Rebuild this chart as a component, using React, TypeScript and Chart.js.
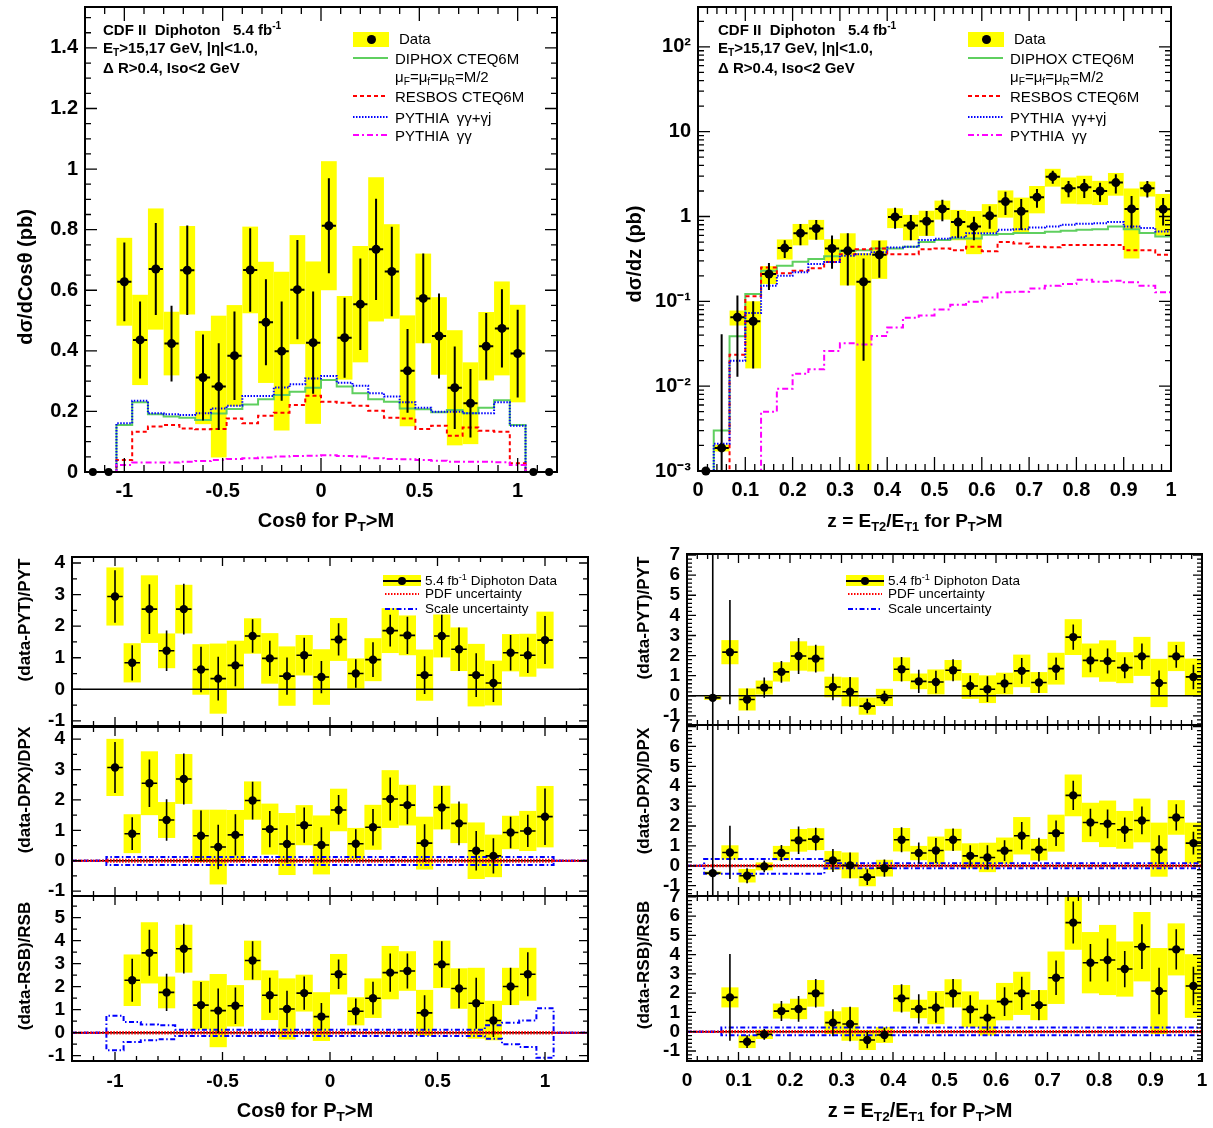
import React, { useEffect, useRef } from "react";
import { Chart, registerables } from "chart.js";
Chart.register(...registerables);

const W = 1213;
const H = 1128;
const M = 80; // extra canvas margin so label overflow never moves the plot frame
const FONT = "'Liberation Sans', Arial, Helvetica, sans-serif";

const YELLOW = "#ffff00";
const GREEN = "#5fcf5f";
const RED = "#ff0000";
const BLUE = "#0000ff";
const MAGENTA = "#ff00ff";

// ================= cos(theta) distribution =================
const cosEdges = [-1.04, -0.96, -0.88, -0.8, -0.72, -0.64, -0.56, -0.48, -0.4, -0.32, -0.24, -0.16, -0.08, 0.0, 0.08, 0.16, 0.24, 0.32, 0.4, 0.48, 0.56, 0.64, 0.72, 0.8, 0.88, 0.96, 1.04];
const cosOuterX = [-1.16, -1.08, 1.08, 1.16];
const cosOuterY = [0, 0, 0, 0];
const cosData = [0.628, 0.436, 0.67, 0.424, 0.666, 0.312, 0.282, 0.384, 0.667, 0.494, 0.399, 0.602, 0.427, 0.813, 0.443, 0.554, 0.735, 0.662, 0.334, 0.573, 0.449, 0.278, 0.227, 0.415, 0.474, 0.391];
const cosStat = [0.13, 0.127, 0.152, 0.125, 0.148, 0.142, 0.143, 0.146, 0.138, 0.142, 0.164, 0.164, 0.169, 0.157, 0.132, 0.151, 0.167, 0.148, 0.138, 0.148, 0.14, 0.136, 0.113, 0.11, 0.129, 0.145];
const cosSyst = [0.145, 0.149, 0.2, 0.105, 0.146, 0.154, 0.234, 0.167, 0.143, 0.2, 0.262, 0.18, 0.268, 0.213, 0.138, 0.192, 0.238, 0.156, 0.183, 0.148, 0.128, 0.19, 0.135, 0.113, 0.155, 0.161];
const cosDiphox = [0.155, 0.23, 0.191, 0.183, 0.179, 0.172, 0.193, 0.208, 0.223, 0.24, 0.254, 0.265, 0.278, 0.304, 0.282, 0.26, 0.24, 0.232, 0.21, 0.207, 0.197, 0.205, 0.194, 0.212, 0.237, 0.155];
const cosResbos = [0.04, 0.133, 0.15, 0.155, 0.144, 0.141, 0.142, 0.177, 0.161, 0.186, 0.196, 0.221, 0.252, 0.232, 0.229, 0.219, 0.202, 0.179, 0.177, 0.142, 0.153, 0.12, 0.147, 0.136, 0.133, 0.029];
const cosPythiaAll = [0.161, 0.235, 0.194, 0.191, 0.188, 0.194, 0.21, 0.219, 0.251, 0.251, 0.279, 0.29, 0.309, 0.317, 0.295, 0.285, 0.26, 0.249, 0.23, 0.212, 0.199, 0.199, 0.194, 0.194, 0.23, 0.153];
const cosPythiaGG = [0.023, 0.031, 0.031, 0.031, 0.034, 0.036, 0.04, 0.043, 0.045, 0.048, 0.051, 0.053, 0.054, 0.055, 0.053, 0.051, 0.045, 0.043, 0.042, 0.04, 0.037, 0.034, 0.034, 0.034, 0.032, 0.023];

// ================= z = ET2/ET1 distribution =================
const zEdges = [0, 0.0333, 0.0667, 0.1, 0.1333, 0.1667, 0.2, 0.2333, 0.2667, 0.3, 0.3333, 0.3667, 0.4, 0.4333, 0.4667, 0.5, 0.5333, 0.5667, 0.6, 0.6333, 0.6667, 0.7, 0.7333, 0.7667, 0.8, 0.8333, 0.8667, 0.9, 0.9333, 0.9667, 1.0];
const zData = [0, 0.00187, 0.0649, 0.0582, 0.21, 0.424, 0.637, 0.722, 0.42, 0.394, 0.17, 0.354, 0.99, 0.784, 0.88, 1.23, 0.86, 0.76, 1.02, 1.5, 1.15, 1.69, 2.95, 2.15, 2.21, 2.0, 2.51, 1.23, 2.15, 1.22];
const zStat = [0, 0.039, 0.052, 0.042, 0.074, 0.1, 0.18, 0.19, 0.177, 0.24, 0.15, 0.164, 0.275, 0.26, 0.285, 0.35, 0.3, 0.235, 0.305, 0.46, 0.455, 0.42, 0.515, 0.465, 0.555, 0.505, 0.645, 0.51, 0.47, 0.435];
const zSyst = [0, 0.00017, 0.013, 0.042, 0.05, 0.113, 0.18, 0.19, 0.12, 0.24, 0.2, 0.17, 0.26, 0.26, 0.29, 0.31, 0.335, 0.4, 0.38, 0.53, 0.52, 0.6, 0.7, 0.735, 0.815, 0.635, 0.75, 0.91, 0.43, 0.625];
const zDiphox = [0, 0.003, 0.0387, 0.122, 0.23, 0.263, 0.293, 0.315, 0.339, 0.395, 0.4, 0.42, 0.42, 0.44, 0.5, 0.53, 0.55, 0.55, 0.61, 0.62, 0.64, 0.64, 0.66, 0.68, 0.7, 0.71, 0.76, 0.71, 0.64, 0.58];
const zResbos = [0, 0, 0.0234, 0.115, 0.251, 0.214, 0.23, 0.246, 0.29, 0.36, 0.41, 0.42, 0.36, 0.36, 0.41, 0.42, 0.4, 0.44, 0.39, 0.5, 0.48, 0.44, 0.435, 0.46, 0.46, 0.46, 0.46, 0.4, 0.4, 0.354];
const zPythiaAll = [0, 0.0021, 0.02, 0.073, 0.153, 0.2, 0.22, 0.275, 0.29, 0.344, 0.36, 0.38, 0.43, 0.44, 0.53, 0.547, 0.57, 0.637, 0.637, 0.7, 0.71, 0.74, 0.76, 0.8, 0.82, 0.835, 0.86, 0.76, 0.73, 0.665];
const zPythiaGG = [0, 0, 0, 0, 0.005, 0.0093, 0.014, 0.0158, 0.026, 0.032, 0.031, 0.039, 0.049, 0.064, 0.068, 0.08, 0.091, 0.099, 0.111, 0.128, 0.13, 0.142, 0.153, 0.16, 0.18, 0.17, 0.175, 0.168, 0.153, 0.128];

// ================= ratio panels, cos(theta) =================
const l1Val = [2.94, 0.84, 2.54, 1.22, 2.54, 0.63, 0.34, 0.76, 1.69, 0.98, 0.42, 1.08, 0.39, 1.58, 0.5, 0.94, 1.86, 1.71, 0.45, 1.69, 1.27, 0.45, 0.2, 1.16, 1.08, 1.56];
const l1Stat = [0.83, 0.56, 0.79, 0.64, 0.8, 0.72, 0.69, 0.66, 0.53, 0.56, 0.59, 0.55, 0.51, 0.51, 0.45, 0.55, 0.5, 0.59, 0.6, 0.67, 0.69, 0.69, 0.6, 0.56, 0.56, 0.76];
const l1Syst = [0.92, 0.62, 1.07, 0.55, 0.77, 0.8, 1.11, 0.78, 0.56, 0.8, 0.94, 0.64, 0.88, 0.68, 0.48, 0.68, 0.71, 0.63, 0.81, 0.68, 0.69, 0.99, 0.71, 0.59, 0.68, 0.9];

const l2Val = [3.07, 0.89, 2.55, 1.34, 2.69, 0.82, 0.45, 0.85, 1.98, 1.04, 0.55, 1.17, 0.52, 1.67, 0.56, 1.1, 2.03, 1.83, 0.58, 1.75, 1.23, 0.33, 0.16, 0.93, 0.98, 1.45];
const l2Stat = [0.84, 0.54, 0.78, 0.68, 0.84, 0.83, 0.73, 0.68, 0.62, 0.6, 0.62, 0.58, 0.58, 0.49, 0.48, 0.6, 0.71, 0.63, 0.62, 0.71, 0.72, 0.65, 0.58, 0.52, 0.53, 0.93];
const l2Syst = [0.94, 0.64, 1.05, 0.59, 0.82, 0.86, 1.23, 0.82, 0.63, 0.84, 1.02, 0.66, 0.97, 0.7, 0.52, 0.74, 0.95, 0.67, 0.87, 0.72, 0.65, 0.93, 0.7, 0.55, 0.66, 1.01];
const l2ScaleUp = [0.12, 0.12, 0.12, 0.12, 0.12, 0.12, 0.12, 0.12, 0.12, 0.12, 0.12, 0.12, 0.12, 0.12, 0.12, 0.12, 0.12, 0.12, 0.12, 0.12, 0.12, 0.12, 0.12, 0.12, 0.12, 0.12];
const l2ScaleDn = [-0.14, -0.14, -0.14, -0.14, -0.14, -0.14, -0.14, -0.14, -0.14, -0.14, -0.14, -0.14, -0.14, -0.14, -0.14, -0.14, -0.14, -0.14, -0.14, -0.14, -0.14, -0.14, -0.14, -0.14, -0.14, -0.14];
const l2PdfUp = [0.03, 0.03, 0.03, 0.03, 0.03, 0.03, 0.03, 0.03, 0.03, 0.03, 0.03, 0.03, 0.03, 0.03, 0.03, 0.03, 0.03, 0.03, 0.03, 0.03, 0.03, 0.03, 0.03, 0.03, 0.03, 0.03];
const l2PdfDn = [-0.03, -0.03, -0.03, -0.03, -0.03, -0.03, -0.03, -0.03, -0.03, -0.03, -0.03, -0.03, -0.03, -0.03, -0.03, -0.03, -0.03, -0.03, -0.03, -0.03, -0.03, -0.03, -0.03, -0.03, -0.03, -0.03];

const l3Val = [null, 2.28, 3.47, 1.75, 3.65, 1.2, 0.96, 1.17, 3.14, 1.63, 1.03, 1.72, 0.7, 2.54, 0.93, 1.5, 2.61, 2.68, 0.86, 2.97, 1.92, 1.28, 0.53, 2.01, 2.54, null];
const l3Stat = [0, 0.93, 1.0, 0.81, 1.08, 1.0, 0.96, 0.79, 0.83, 0.76, 0.79, 0.72, 0.59, 0.64, 0.56, 0.71, 0.83, 0.76, 0.77, 1.0, 0.86, 1.11, 0.72, 0.81, 0.96, 0];
const l3Syst = [0, 1.12, 1.33, 0.69, 1.04, 1.06, 1.59, 0.9, 0.86, 1.08, 1.33, 0.8, 1.06, 0.88, 0.61, 0.86, 1.16, 0.86, 1.0, 1.03, 0.88, 1.54, 0.86, 0.81, 1.15, 0];
const l3ScaleUp = [0.74, 0.46, 0.36, 0.32, 0.13, 0.13, 0.13, 0.13, 0.13, 0.13, 0.13, 0.13, 0.13, 0.13, 0.13, 0.13, 0.13, 0.13, 0.13, 0.13, 0.13, 0.13, 0.32, 0.43, 0.53, 1.06];
const l3ScaleDn = [-0.76, -0.4, -0.33, -0.29, -0.14, -0.14, -0.14, -0.14, -0.14, -0.14, -0.14, -0.14, -0.14, -0.14, -0.14, -0.14, -0.14, -0.14, -0.14, -0.14, -0.14, -0.14, -0.26, -0.5, -0.62, -1.09];
const l3PdfUp = [0.03, 0.03, 0.03, 0.03, 0.03, 0.03, 0.03, 0.03, 0.03, 0.03, 0.03, 0.03, 0.03, 0.03, 0.03, 0.03, 0.03, 0.03, 0.03, 0.03, 0.03, 0.03, 0.03, 0.03, 0.03, 0.03];
const l3PdfDn = [-0.03, -0.03, -0.03, -0.03, -0.03, -0.03, -0.03, -0.03, -0.03, -0.03, -0.03, -0.03, -0.03, -0.03, -0.03, -0.03, -0.03, -0.03, -0.03, -0.03, -0.03, -0.03, -0.03, -0.03, -0.03, -0.03];

// ================= ratio panels, z =================
const r1Val = [null, -0.1, 2.17, -0.18, 0.41, 1.19, 1.98, 1.85, 0.44, 0.2, -0.51, -0.08, 1.32, 0.72, 0.69, 1.27, 0.49, 0.33, 0.61, 1.24, 0.66, 1.35, 2.92, 1.76, 1.73, 1.4, 1.96, 0.64, 1.96, 0.94];
const r1Stat = [0, 9.0, 2.59, 0.54, 0.5, 0.54, 0.9, 0.69, 0.66, 0.74, 0.36, 0.33, 0.61, 0.58, 0.56, 0.55, 0.52, 0.64, 0.47, 0.64, 0.52, 0.56, 0.63, 0.59, 0.62, 0.52, 0.64, 0.62, 0.57, 0.61];
const r1Syst = [0, 0.1, 0.6, 0.55, 0.35, 0.48, 0.73, 0.64, 0.51, 0.72, 0.43, 0.43, 0.59, 0.39, 0.62, 0.51, 0.64, 0.69, 0.54, 0.81, 0.52, 0.79, 0.89, 0.84, 1.03, 0.77, 0.97, 1.2, 0.73, 0.91];

const r2Val = [null, -0.37, 0.67, -0.5, -0.03, 0.64, 1.28, 1.34, 0.27, 0.02, -0.57, -0.12, 1.31, 0.64, 0.77, 1.31, 0.5, 0.42, 0.76, 1.51, 0.81, 1.64, 3.54, 2.18, 2.11, 1.81, 2.28, 0.81, 2.43, 1.14];
const r2Stat = [0, 9.0, 1.34, 0.38, 0.3, 0.4, 0.69, 0.57, 0.58, 0.65, 0.4, 0.43, 0.63, 0.53, 0.63, 0.57, 0.53, 0.61, 0.52, 0.69, 0.6, 0.64, 0.74, 0.69, 0.72, 0.62, 0.7, 0.72, 0.66, 0.57];
const r2Syst = [0, 0.08, 0.36, 0.34, 0.2, 0.36, 0.57, 0.55, 0.47, 0.65, 0.46, 0.42, 0.59, 0.36, 0.7, 0.55, 0.63, 0.74, 0.66, 0.94, 0.54, 0.93, 1.05, 0.99, 1.17, 0.95, 1.1, 1.36, 0.87, 1.03];
const r2ScaleUp = [0, 0.34, 0.34, 0.34, 0.34, 0.34, 0.34, 0.34, 0.13, 0.13, 0.13, 0.13, 0.13, 0.13, 0.13, 0.13, 0.13, 0.13, 0.13, 0.13, 0.13, 0.13, 0.13, 0.13, 0.13, 0.13, 0.13, 0.13, 0.13, 0.13];
const r2ScaleDn = [0, -0.4, -0.4, -0.4, -0.4, -0.4, -0.4, -0.4, -0.12, -0.12, -0.12, -0.12, -0.12, -0.12, -0.12, -0.12, -0.12, -0.12, -0.12, -0.12, -0.12, -0.12, -0.12, -0.12, -0.12, -0.12, -0.12, -0.12, -0.12, -0.12];
const r2PdfUp = [0, 0.03, 0.03, 0.03, 0.03, 0.03, 0.03, 0.03, 0.03, 0.03, 0.03, 0.03, 0.03, 0.03, 0.03, 0.03, 0.03, 0.03, 0.03, 0.03, 0.03, 0.03, 0.03, 0.03, 0.03, 0.03, 0.03, 0.03, 0.03, 0.03];
const r2PdfDn = [0, -0.03, -0.03, -0.03, -0.03, -0.03, -0.03, -0.03, -0.03, -0.03, -0.03, -0.03, -0.03, -0.03, -0.03, -0.03, -0.03, -0.03, -0.03, -0.03, -0.03, -0.03, -0.03, -0.03, -0.03, -0.03, -0.03, -0.03, -0.03, -0.03];

const r3Val = [null, null, 1.78, -0.52, -0.14, 1.07, 1.18, 1.99, 0.47, 0.4, -0.43, -0.17, 1.73, 1.18, 1.25, 1.99, 1.16, 0.73, 1.56, 1.99, 1.38, 2.8, 5.66, 3.58, 3.72, 3.25, 4.41, 2.11, 4.27, 2.37];
const r3Stat = [0, 0, 2.25, 0.33, 0.28, 0.52, 0.67, 0.74, 0.7, 0.9, 0.43, 0.37, 0.73, 0.76, 0.79, 0.74, 0.73, 0.67, 0.74, 0.86, 0.78, 0.89, 1.09, 0.97, 1.11, 0.94, 1.16, 1.21, 1.04, 1.0];
const r3Syst = [0, 0, 0.52, 0.33, 0.24, 0.39, 0.53, 0.69, 0.59, 0.87, 0.52, 0.41, 0.69, 0.48, 0.86, 0.73, 0.93, 0.93, 0.97, 1.12, 0.78, 1.36, 1.41, 1.59, 1.82, 1.43, 1.8, 2.23, 1.35, 1.65];
const r3ScaleUp = [0, 0, 0.22, 0.22, 0.22, 0.22, 0.22, 0.22, 0.22, 0.22, 0.22, 0.22, 0.22, 0.22, 0.22, 0.22, 0.22, 0.22, 0.22, 0.22, 0.22, 0.22, 0.22, 0.22, 0.22, 0.22, 0.22, 0.22, 0.22, 0.22];
const r3ScaleDn = [0, 0, -0.18, -0.18, -0.18, -0.18, -0.18, -0.18, -0.18, -0.18, -0.18, -0.18, -0.18, -0.18, -0.18, -0.18, -0.18, -0.18, -0.18, -0.18, -0.18, -0.18, -0.18, -0.18, -0.18, -0.18, -0.18, -0.18, -0.18, -0.18];
const r3PdfUp = [0, 0, 0.03, 0.03, 0.03, 0.03, 0.03, 0.03, 0.03, 0.03, 0.03, 0.03, 0.03, 0.03, 0.03, 0.03, 0.03, 0.03, 0.03, 0.03, 0.03, 0.03, 0.03, 0.03, 0.03, 0.03, 0.03, 0.03, 0.03, 0.03];
const r3PdfDn = [0, 0, -0.03, -0.03, -0.03, -0.03, -0.03, -0.03, -0.03, -0.03, -0.03, -0.03, -0.03, -0.03, -0.03, -0.03, -0.03, -0.03, -0.03, -0.03, -0.03, -0.03, -0.03, -0.03, -0.03, -0.03, -0.03, -0.03, -0.03, -0.03];

// ================= tick labels =================
const tlXTicks = [-1, -0.5, 0, 0.5, 1];
const tlYTicks = [0, 0.2, 0.4, 0.6, 0.8, 1, 1.2, 1.4];
const trXTicks = [0, 0.1, 0.2, 0.3, 0.4, 0.5, 0.6, 0.7, 0.8, 0.9, 1];
const trYTicks = [0.001, 0.01, 0.1, 1, 10, 100];
const trYTickText = ["10\u207B\u00B3", "10\u207B\u00B2", "10\u207B\u00B9", "1", "10", "10\u00B2"];
const lYTicks4 = [-1, 0, 1, 2, 3, 4];
const lYTicks5 = [-1, 0, 1, 2, 3, 4, 5];
const rYTicks = [-1, 0, 1, 2, 3, 4, 5, 6, 7];

// ================= helpers =================
type Spec = {
  frame: [number, number, number, number];
  xRange: [number, number];
  yRange: [number, number];
  log?: boolean;
  xTicks: number[];
  yTicks: number[];
  yTickText?: string[];
  xLabels: boolean;
  xMinor: number;
  yMinor: number;
  lenX: [number, number];
  lenY: [number, number];
  fontSize: number;
  xPad: number;
  yPad: number;
  zeroLine?: boolean;
  barWidth: number;
  datasets: any[];
};

function centers(edges: number[]) {
  return edges.slice(0, -1).map((e, i) => (e + edges[i + 1]) / 2);
}

function histLine(edges: number[], vals: number[], xr: [number, number], color: string, dash: number[], order: number, floor = 0, width = 2) {
  const pts: { x: number; y: number }[] = [{ x: xr[0], y: floor }, { x: edges[0], y: floor }];
  vals.forEach((v, i) => {
    const yy = v > 0 || floor === 0 ? v : floor;
    pts.push({ x: edges[i], y: yy });
    pts.push({ x: edges[i + 1], y: yy });
  });
  pts.push({ x: edges[edges.length - 1], y: floor });
  pts.push({ x: xr[1], y: floor });
  return {
    type: "line",
    data: pts,
    borderColor: color,
    borderWidth: width,
    borderDash: dash,
    pointRadius: 0,
    fill: false,
    tension: 0,
    order,
  };
}

function pointsDS(edges: number[], vals: (number | null)[], stat: number[], syst: number[], radius: number, floor?: number) {
  const c = centers(edges);
  return {
    type: "scatter",
    data: vals.map((v, i) => ({ x: c[i], y: v == null ? null : floor !== undefined && v <= 0 ? floor : v })),
    edges,
    stat,
    syst,
    pointRadius: radius,
    pointBackgroundColor: "#000",
    pointBorderWidth: 0,
    showLine: false,
    clip: false,
    order: 0,
  };
}

function fmtNum(v: number) {
  return `${Math.round(v * 1000) / 1000}`;
}

function makePlugin(s: Spec) {
  const yPix = (ys: any, v: number, ca: any) => (s.log && v <= 0 ? ca.bottom + 60 : ys.getPixelForValue(v));
  const clip = (ctx: CanvasRenderingContext2D, ca: any) => {
    ctx.beginPath();
    ctx.rect(ca.left, ca.top, ca.right - ca.left, ca.bottom - ca.top);
    ctx.clip();
  };
  return {
    id: "rootStyle",
    beforeDatasetsDraw(chart: any) {
      const { ctx, chartArea: ca } = chart;
      const xs = chart.scales.x;
      const ys = chart.scales.y;
      ctx.save();
      clip(ctx, ca);
      ctx.fillStyle = YELLOW;
      for (const ds of chart.data.datasets) {
        if (!ds.syst) continue;
        ds.data.forEach((p: any, i: number) => {
          if (p.y == null || !ds.syst[i]) return;
          const x0 = xs.getPixelForValue(ds.edges[i]);
          const x1 = xs.getPixelForValue(ds.edges[i + 1]);
          const y0 = yPix(ys, p.y + ds.syst[i], ca);
          const y1 = yPix(ys, p.y - ds.syst[i], ca);
          ctx.fillRect(x0, y0, x1 - x0, y1 - y0);
        });
      }
      if (s.zeroLine) {
        const y0 = ys.getPixelForValue(0);
        ctx.strokeStyle = "#000";
        ctx.lineWidth = 1.5;
        ctx.beginPath();
        ctx.moveTo(ca.left, y0);
        ctx.lineTo(ca.right, y0);
        ctx.stroke();
      }
      ctx.restore();
    },
    afterDatasetsDraw(chart: any) {
      const { ctx, chartArea: ca } = chart;
      const xs = chart.scales.x;
      const ys = chart.scales.y;
      ctx.save();
      clip(ctx, ca);
      ctx.strokeStyle = "#000";
      ctx.lineWidth = s.barWidth;
      ctx.beginPath();
      for (const ds of chart.data.datasets) {
        if (!ds.stat) continue;
        ds.data.forEach((p: any, i: number) => {
          if (p.y == null || !ds.stat[i]) return;
          const half = (ds.edges[i + 1] - ds.edges[i]) * 0.45;
          const px = xs.getPixelForValue(p.x);
          const py = ys.getPixelForValue(p.y);
          ctx.moveTo(px, yPix(ys, p.y + ds.stat[i], ca));
          ctx.lineTo(px, yPix(ys, p.y - ds.stat[i], ca));
          ctx.moveTo(xs.getPixelForValue(p.x - half), py);
          ctx.lineTo(xs.getPixelForValue(p.x + half), py);
        });
      }
      ctx.stroke();
      ctx.restore();
    },
    afterDraw(chart: any) {
      const { ctx, chartArea: ca } = chart;
      const xs = chart.scales.x;
      const ys = chart.scales.y;
      ctx.save();
      ctx.strokeStyle = "#000";
      ctx.lineWidth = 1.3;
      ctx.beginPath();
      const tickX = (v: number, len: number) => {
        const px = xs.getPixelForValue(v);
        ctx.moveTo(px, ca.bottom);
        ctx.lineTo(px, ca.bottom - len);
        ctx.moveTo(px, ca.top);
        ctx.lineTo(px, ca.top + len);
      };
      const tickY = (v: number, len: number) => {
        const py = ys.getPixelForValue(v);
        ctx.moveTo(ca.left, py);
        ctx.lineTo(ca.left + len, py);
        ctx.moveTo(ca.right, py);
        ctx.lineTo(ca.right - len, py);
      };
      const [x0, x1] = s.xRange;
      const [y0, y1] = s.yRange;
      s.xTicks.forEach((v) => tickX(v, s.lenX[0]));
      for (let k = Math.ceil(x0 / s.xMinor - 1e-9); k <= Math.floor(x1 / s.xMinor + 1e-9); k++) {
        const v = k * s.xMinor;
        if (v <= x0 + 1e-9 || v >= x1 - 1e-9) continue;
        if (s.xTicks.some((t) => Math.abs(t - v) < 1e-6)) continue;
        tickX(v, s.lenX[1]);
      }
      s.yTicks.forEach((v) => tickY(v, s.lenY[0]));
      if (s.log) {
        for (let d = Math.floor(Math.log10(y0)); d <= Math.ceil(Math.log10(y1)); d++) {
          for (let j = 2; j <= 9; j++) {
            const v = j * Math.pow(10, d);
            if (v > y0 && v < y1) tickY(v, s.lenY[1]);
          }
        }
      } else {
        for (let k = Math.ceil(y0 / s.yMinor - 1e-9); k <= Math.floor(y1 / s.yMinor + 1e-9); k++) {
          const v = k * s.yMinor;
          if (v <= y0 + 1e-9 || v >= y1 - 1e-9) continue;
          if (s.yTicks.some((t) => Math.abs(t - v) < 1e-6)) continue;
          tickY(v, s.lenY[1]);
        }
      }
      ctx.stroke();
      ctx.lineWidth = 2;
      ctx.strokeRect(ca.left, ca.top, ca.right - ca.left, ca.bottom - ca.top);
      ctx.restore();
    },
  };
}

function buildConfig(s: Spec): any {
  const [l, t, r, b] = s.frame;
  const font = { family: FONT, size: s.fontSize, weight: "bold" as const };
  const yLabel = (v: number) => {
    if (s.yTickText) {
      const i = s.yTicks.findIndex((tv) => Math.abs(Math.log10(tv) - Math.log10(v)) < 1e-6);
      return i >= 0 ? s.yTickText[i] : "";
    }
    return fmtNum(v);
  };
  return {
    type: "scatter",
    data: { datasets: s.datasets },
    plugins: [makePlugin(s)],
    options: {
      responsive: false,
      maintainAspectRatio: false,
      animation: false,
      events: [],
      layout: { padding: { left: l - 60 + M, top: t + M, right: W - r + M, bottom: H - b - 40 + M } },
      plugins: { legend: { display: false }, tooltip: { enabled: false }, title: { display: false } },
      scales: {
        x: {
          type: "linear",
          min: s.xRange[0],
          max: s.xRange[1],
          grid: { display: false, drawTicks: false },
          border: { display: false },
          afterFit: (sc: any) => {
            sc.height = 40;
          },
          afterBuildTicks: (sc: any) => {
            sc.ticks = s.xTicks.map((v) => ({ value: v }));
          },
          ticks: {
            display: s.xLabels,
            autoSkip: false,
            maxRotation: 0,
            padding: s.xPad,
            color: "#000",
            font,
            callback: (v: number) => fmtNum(v),
          },
        },
        y: {
          type: s.log ? "logarithmic" : "linear",
          min: s.yRange[0],
          max: s.yRange[1],
          grid: { display: false, drawTicks: false },
          border: { display: false },
          afterFit: (sc: any) => {
            sc.width = 60;
          },
          afterBuildTicks: (sc: any) => {
            sc.ticks = s.yTicks.map((v) => ({ value: v }));
          },
          ticks: {
            autoSkip: false,
            padding: s.yPad,
            color: "#000",
            font,
            callback: (v: number) => yLabel(v),
          },
        },
      },
    },
  };
}

// ================= panel specs =================
const TL_X: [number, number] = [-1.2, 1.2];
const Z_X: [number, number] = [0, 1];
const LOG_FLOOR = 1e-5;
const SCALE_DASH = [5, 2.5, 1.5, 2.5];
const PDF_DASH = [1.5, 1.5];

const topCommon = { xMinor: 0, yMinor: 0, lenX: [14, 7] as [number, number], lenY: [12, 6] as [number, number], fontSize: 20, xPad: 7, yPad: 7, xLabels: true, barWidth: 2 };
const botCommon = { lenX: [9, 5] as [number, number], lenY: [9, 5] as [number, number], fontSize: 19, yPad: 7, barWidth: 1.6, zeroLine: true };

function bands(edges: number[], xr: [number, number], su: number[], sd: number[], pu: number[], pd: number[]) {
  return [
    histLine(edges, su, xr, BLUE, SCALE_DASH, 2),
    histLine(edges, sd, xr, BLUE, SCALE_DASH, 2),
    histLine(edges, pu, xr, RED, PDF_DASH, 1),
    histLine(edges, pd, xr, RED, PDF_DASH, 1),
  ];
}

const PANELS: Spec[] = [
  {
    ...topCommon,
    frame: [85, 7, 557, 472],
    xRange: TL_X,
    yRange: [0, 1.535],
    xTicks: tlXTicks,
    yTicks: tlYTicks,
    xMinor: 0.1,
    yMinor: 0.05,
    datasets: [
      pointsDS(cosEdges, cosData, cosStat, cosSyst, 4.5),
      { type: "scatter", data: cosOuterX.map((x, i) => ({ x, y: cosOuterY[i] })), pointRadius: 4, pointBackgroundColor: "#000", pointBorderWidth: 0, clip: false, order: 0 },
      histLine(cosEdges, cosDiphox, TL_X, GREEN, [], 4),
      histLine(cosEdges, cosResbos, TL_X, RED, [4, 3], 3),
      histLine(cosEdges, cosPythiaAll, TL_X, BLUE, [1.5, 1.5], 2),
      histLine(cosEdges, cosPythiaGG, TL_X, MAGENTA, [6, 3, 2, 3], 1),
    ],
  },
  {
    ...topCommon,
    frame: [698, 7, 1171, 471],
    xRange: Z_X,
    yRange: [0.001, 295],
    log: true,
    xTicks: trXTicks,
    yTicks: trYTicks,
    yTickText: trYTickText,
    xMinor: 0.02,
    yMinor: 1,
    datasets: [
      pointsDS(zEdges, zData, zStat, zSyst, 4.5, 0.001),
      histLine(zEdges, zDiphox, Z_X, GREEN, [], 4, LOG_FLOOR),
      histLine(zEdges, zResbos, Z_X, RED, [4, 3], 3, LOG_FLOOR),
      histLine(zEdges, zPythiaAll, Z_X, BLUE, [1.5, 1.5], 2, LOG_FLOOR),
      histLine(zEdges, zPythiaGG, Z_X, MAGENTA, [6, 3, 2, 3], 1, LOG_FLOOR),
    ],
  },
  {
    ...botCommon,
    frame: [72, 557, 588, 726],
    xRange: TL_X,
    yRange: [-1.16, 4.19],
    xTicks: tlXTicks,
    yTicks: lYTicks4,
    xLabels: false,
    xMinor: 0.1,
    yMinor: 0.5,
    xPad: 9,
    datasets: [pointsDS(cosEdges, l1Val, l1Stat, l1Syst, 4.2)],
  },
  {
    ...botCommon,
    frame: [72, 727, 588, 896],
    xRange: TL_X,
    yRange: [-1.16, 4.4],
    xTicks: tlXTicks,
    yTicks: lYTicks4,
    xLabels: false,
    xMinor: 0.1,
    yMinor: 0.5,
    xPad: 9,
    datasets: [pointsDS(cosEdges, l2Val, l2Stat, l2Syst, 4.2), ...bands(cosEdges, TL_X, l2ScaleUp, l2ScaleDn, l2PdfUp, l2PdfDn)],
  },
  {
    ...botCommon,
    frame: [72, 896, 588, 1061],
    xRange: TL_X,
    yRange: [-1.23, 5.94],
    xTicks: tlXTicks,
    yTicks: lYTicks5,
    xLabels: true,
    xMinor: 0.1,
    yMinor: 0.5,
    xPad: 9,
    datasets: [pointsDS(cosEdges, l3Val, l3Stat, l3Syst, 4.2), ...bands(cosEdges, TL_X, l3ScaleUp, l3ScaleDn, l3PdfUp, l3PdfDn)],
  },
  {
    ...botCommon,
    frame: [687, 554, 1202, 725],
    xRange: Z_X,
    yRange: [-1.45, 7.05],
    xTicks: trXTicks,
    yTicks: rYTicks,
    xLabels: false,
    xMinor: 0.02,
    yMinor: 0.2,
    xPad: 8,
    datasets: [pointsDS(zEdges, r1Val, r1Stat, r1Syst, 4.2)],
  },
  {
    ...botCommon,
    frame: [687, 725, 1202, 896],
    xRange: Z_X,
    yRange: [-1.52, 7.08],
    xTicks: trXTicks,
    yTicks: rYTicks,
    xLabels: false,
    xMinor: 0.02,
    yMinor: 0.2,
    xPad: 8,
    datasets: [pointsDS(zEdges, r2Val, r2Stat, r2Syst, 4.2), ...bands(zEdges, Z_X, r2ScaleUp, r2ScaleDn, r2PdfUp, r2PdfDn)],
  },
  {
    ...botCommon,
    frame: [687, 896, 1202, 1061],
    xRange: Z_X,
    yRange: [-1.52, 7.04],
    xTicks: trXTicks,
    yTicks: rYTicks,
    xLabels: true,
    xMinor: 0.02,
    yMinor: 0.2,
    xPad: 8,
    datasets: [pointsDS(zEdges, r3Val, r3Stat, r3Syst, 4.2), ...bands(zEdges, Z_X, r3ScaleUp, r3ScaleDn, r3PdfUp, r3PdfDn)],
  },
];

// ================= components =================
function Panel({ spec }: { spec: Spec }) {
  const ref = useRef<HTMLCanvasElement>(null);
  useEffect(() => {
    if (!ref.current) return;
    const chart = new Chart(ref.current, buildConfig(spec));
    return () => chart.destroy();
  }, [spec]);
  return (
    <canvas
      ref={ref}
      width={W + 2 * M}
      height={H + 2 * M}
      style={{ position: "absolute", left: -M, top: -M, width: W + 2 * M, height: H + 2 * M }}
    />
  );
}

const Sub = ({ children }: { children: any }) => (
  <span style={{ fontSize: "0.68em", position: "relative", top: "0.32em" }}>{children}</span>
);
const Sup = ({ children }: { children: any }) => (
  <span style={{ fontSize: "0.68em", position: "relative", top: "-0.55em" }}>{children}</span>
);

function Label(props: { x: number; y: number; size: number; bold?: boolean; center?: boolean; rot?: boolean; children: any }) {
  const { x, y, size, bold, center, rot, children } = props;
  const transform = rot ? "translate(-50%,-50%) rotate(-90deg)" : center ? "translate(-50%,-50%)" : "translate(0,-50%)";
  return (
    <div
      style={{
        position: "absolute",
        left: x,
        top: y,
        fontSize: size,
        fontWeight: bold ? 700 : 400,
        lineHeight: 1,
        whiteSpace: "pre",
        color: "#000",
        fontFamily: FONT,
        transform,
      }}
    >
      {children}
    </div>
  );
}

function LineSample({ x1, x2, y, color, dash }: { x1: number; x2: number; y: number; color: string; dash?: string }) {
  return (
    <svg style={{ position: "absolute", left: x1, top: y - 3 }} width={x2 - x1} height={6}>
      <line x1={0} y1={3} x2={x2 - x1} y2={3} stroke={color} strokeWidth={2} strokeDasharray={dash} />
    </svg>
  );
}

function DataSample({ x1, x2, y1, y2, r, bar }: { x1: number; x2: number; y1: number; y2: number; r: number; bar?: boolean }) {
  const cx = (x1 + x2) / 2;
  const cy = (y1 + y2) / 2;
  return (
    <>
      <div style={{ position: "absolute", left: x1, top: y1, width: x2 - x1, height: y2 - y1, background: YELLOW }} />
      {bar && <div style={{ position: "absolute", left: x1, top: cy - 1, width: x2 - x1, height: 2, background: "#000" }} />}
      <div style={{ position: "absolute", left: cx - r, top: cy - r, width: 2 * r, height: 2 * r, borderRadius: "50%", background: "#000" }} />
    </>
  );
}

function TopAnnotations({ dx }: { dx: number }) {
  const tx = 103 + dx;
  const lx = 395 + dx;
  return (
    <>
      <Label x={tx} y={29.6} size={15} bold>
        {"CDF II  Diphoton   5.4 fb"}
        <Sup>-1</Sup>
      </Label>
      <Label x={tx} y={47.6} size={15} bold>
        {"E"}
        <Sub>T</Sub>
        {">15,17 GeV, |\u03B7|<1.0,"}
      </Label>
      <Label x={tx} y={66.6} size={15} bold>
        {"\u0394 R>0.4, Iso<2 GeV"}
      </Label>
      <DataSample x1={353 + dx} x2={389 + dx} y1={32} y2={47} r={4.5} />
      <Label x={lx + 4} y={38.3} size={15}>
        Data
      </Label>
      <LineSample x1={353 + dx} x2={388 + dx} y={58.3} color={GREEN} />
      <Label x={lx} y={58.3} size={15}>
        DIPHOX CTEQ6M
      </Label>
      <Label x={lx} y={76.7} size={15}>
        {"\u03BC"}
        <Sub>F</Sub>
        {"=\u03BC"}
        <Sub>f</Sub>
        {"=\u03BC"}
        <Sub>R</Sub>
        {"=M/2"}
      </Label>
      <LineSample x1={353 + dx} x2={388 + dx} y={96} color={RED} dash="4 3" />
      <Label x={lx} y={96} size={15}>
        RESBOS CTEQ6M
      </Label>
      <LineSample x1={353 + dx} x2={388 + dx} y={116.7} color={BLUE} dash="1.5 1.5" />
      <Label x={lx} y={116.7} size={15}>
        {"PYTHIA  \u03B3\u03B3+\u03B3j"}
      </Label>
      <LineSample x1={353 + dx} x2={388 + dx} y={135} color={MAGENTA} dash="6 3 2 3" />
      <Label x={lx} y={135} size={15}>
        {"PYTHIA  \u03B3\u03B3"}
      </Label>
    </>
  );
}

function RatioLegend({ x }: { x: number }) {
  return (
    <>
      <DataSample x1={x} x2={x + 38} y1={575} y2={586} r={4} bar />
      <Label x={x + 42} y={580.7} size={13.5}>
        {"5.4 fb"}
        <Sup>-1</Sup>
        {" Diphoton Data"}
      </Label>
      <LineSample x1={x + 2} x2={x + 36} y={594} color={RED} dash="1.5 1.5" />
      <Label x={x + 42} y={594} size={13.5}>
        PDF uncertainty
      </Label>
      <LineSample x1={x + 2} x2={x + 36} y={608.5} color={BLUE} dash="5 2.5 1.5 2.5" />
      <Label x={x + 42} y={608.5} size={13.5}>
        Scale uncertainty
      </Label>
    </>
  );
}

function Overlay() {
  const cosTitle = (
    <>
      {"Cos\u03B8 for P"}
      <Sub>T</Sub>
      {">M"}
    </>
  );
  const zTitle = (
    <>
      {"z = E"}
      <Sub>T2</Sub>
      {"/E"}
      <Sub>T1</Sub>
      {" for P"}
      <Sub>T</Sub>
      {">M"}
    </>
  );
  return (
    <>
      <TopAnnotations dx={0} />
      <TopAnnotations dx={615} />
      <Label x={326} y={520} size={20} bold center>
        {cosTitle}
      </Label>
      <Label x={915} y={520} size={19} bold center>
        {zTitle}
      </Label>
      <Label x={25} y={277} size={20} bold rot>
        {"d\u03C3/dCos\u03B8 (pb)"}
      </Label>
      <Label x={634} y={254} size={20} bold rot>
        {"d\u03C3/dz (pb)"}
      </Label>
      <RatioLegend x={383} />
      <RatioLegend x={846} />
      <Label x={24} y={620} size={17} bold rot>
        (data-PYT)/PYT
      </Label>
      <Label x={24} y={790} size={17} bold rot>
        (data-DPX)/DPX
      </Label>
      <Label x={24} y={966} size={17} bold rot>
        (data-RSB)/RSB
      </Label>
      <Label x={643} y={618} size={17} bold rot>
        (data-PYT)/PYT
      </Label>
      <Label x={643} y={791} size={17} bold rot>
        (data-DPX)/DPX
      </Label>
      <Label x={643} y={965} size={17} bold rot>
        (data-RSB)/RSB
      </Label>
      <Label x={305} y={1110} size={20} bold center>
        {cosTitle}
      </Label>
      <Label x={920} y={1110} size={20} bold center>
        {zTitle}
      </Label>
    </>
  );
}

export default function App() {
  return (
    <div style={{ position: "absolute", left: 0, top: 0, width: W, height: H, background: "#fff", overflow: "hidden" }}>
      {PANELS.map((p, i) => (
        <Panel key={i} spec={p} />
      ))}
      <Overlay />
    </div>
  );
}
